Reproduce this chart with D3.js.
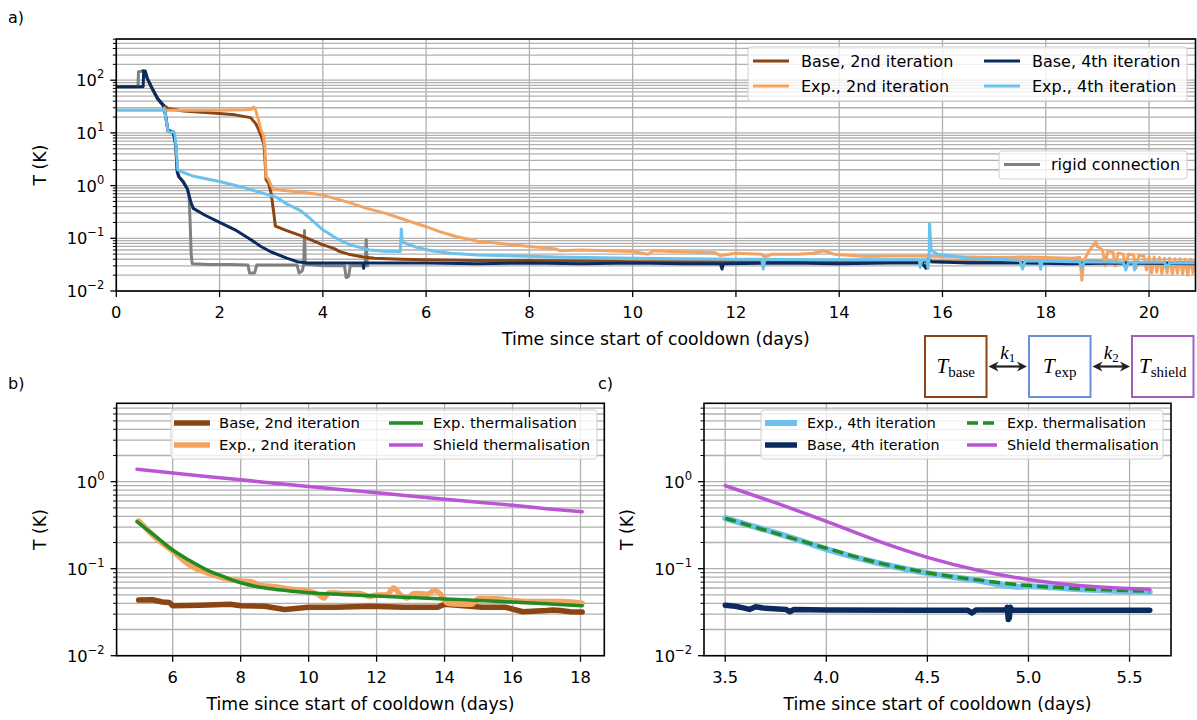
<!DOCTYPE html>
<html><head><meta charset="utf-8">
<script src="https://cdn.jsdelivr.net/npm/d3@7"></script>
<style>
body{margin:0;background:#fff}
text{font-family:"DejaVu Sans",sans-serif;fill:#000}
.serif{font-family:"Liberation Serif","DejaVu Serif",serif}
</style>
</head><body>
<script>
// ---------- panel a: full cooldown, [days, kelvin] ----------
const aRigid = [[0,75],[0.42,75],[0.43,145],[0.51,150],[0.56,130],[0.65,85],[0.75,55],[0.85,38],[0.91,32],[0.95,22],[1.0,11],[1.1,10.5],[1.15,6],[1.18,2],[1.2,1.5],[1.3,1.2],[1.37,0.9],[1.41,0.6],[1.43,0.2],[1.45,0.05],[1.47,0.033],[1.8,0.032],[2.2,0.032],[2.55,0.031],[2.58,0.022],[2.68,0.022],[2.72,0.031],[3.0,0.031],[3.5,0.031],[3.54,0.022],[3.6,0.024],[3.63,0.032],[3.645,0.14],[3.66,0.032],[4.0,0.03],[4.42,0.03],[4.45,0.018],[4.5,0.019],[4.53,0.03],[4.82,0.03],[4.84,0.095],[4.86,0.03],[4.87,0.03]];
const aBase2 = [[0.52,150],[0.56,140],[0.6,105],[0.7,68],[0.8,44],[0.91,34],[1.0,29],[1.3,26],[1.8,24],[2.3,22],[2.6,19.5],[2.7,15],[2.75,12],[2.82,8],[2.86,6],[2.88,3],[2.9,1.3],[2.95,1.1],[3.0,0.7],[3.05,0.3],[3.08,0.17],[3.3,0.14],[3.6,0.11],[4.0,0.075],[4.2,0.065],[4.33,0.056],[4.5,0.05],[4.78,0.044],[5.0,0.042],[5.5,0.04],[6,0.039],[7,0.038],[8,0.038],[9,0.037],[10,0.036],[12,0.036],[14,0.036],[16,0.036],[18,0.035],[19,0.036],[20,0.034],[20.9,0.035]];
const aExp2 = [[0.91,27],[1.5,27],[2.0,27],[2.5,27.5],[2.62,28],[2.66,31],[2.7,27],[2.75,18],[2.8,11.5],[2.85,9],[2.88,5],[2.9,1.5],[2.95,1.3],[3.0,1.0],[3.05,0.85],[3.2,0.82],[3.6,0.75],[4.0,0.66],[4.5,0.48],[4.85,0.37],[5.2,0.3],[5.5,0.24],[6.0,0.166],[6.3,0.13],[6.6,0.107],[7.0,0.088],[7.43,0.08],[8.0,0.07],[8.5,0.063],[8.6,0.058],[9.0,0.06],[9.5,0.058],[10.0,0.056],[10.3,0.05],[10.4,0.058],[11,0.055],[11.6,0.053],[11.7,0.047],[12,0.052],[12.5,0.05],[12.55,0.044],[12.7,0.05],[13.2,0.05],[13.5,0.052],[13.7,0.058],[13.9,0.05],[14.5,0.045],[15,0.046],[15.5,0.046],[16,0.045],[16.5,0.044],[17,0.043],[17.5,0.044],[18,0.043],[18.5,0.042],[18.66,0.043],[18.7,0.016],[18.73,0.035],[18.8,0.05],[18.9,0.07],[18.97,0.085],[19.0,0.07],[19.1,0.06],[19.15,0.03],[19.2,0.058],[19.3,0.055],[19.35,0.03],[19.4,0.052],[19.5,0.05],[19.55,0.028],[19.6,0.05],[19.7,0.048],[19.75,0.027],[19.8,0.047],[19.9,0.046],[19.95,0.025],[20.0,0.045],[20.05,0.022],[20.1,0.044],[20.15,0.023],[20.2,0.043],[20.25,0.021],[20.3,0.042],[20.35,0.022],[20.4,0.042],[20.45,0.021],[20.5,0.041],[20.55,0.022],[20.6,0.041],[20.65,0.021],[20.7,0.04],[20.75,0.02],[20.8,0.04],[20.85,0.022],[20.9,0.04]];
const aBase4 = [[0,75],[0.52,75],[0.53,150],[0.56,150],[0.6,110],[0.7,68],[0.8,45],[0.91,34],[0.95,23],[1.0,11],[1.1,10.5],[1.15,6],[1.18,1.8],[1.22,1.45],[1.3,1.15],[1.38,0.85],[1.44,0.5],[1.49,0.37],[1.7,0.28],[2.0,0.2],[2.3,0.145],[2.6,0.095],[2.8,0.07],[3.0,0.055],[3.3,0.042],[3.5,0.036],[3.7,0.034],[4.5,0.034],[4.78,0.034],[4.79,0.027],[4.8,0.034],[6,0.034],[7,0.033],[8,0.034],[9,0.033],[10,0.034],[11,0.033],[11.7,0.033],[11.73,0.026],[11.76,0.033],[13,0.034],[14,0.033],[15,0.034],[15.6,0.034],[15.68,0.027],[15.72,0.04],[15.8,0.036],[16.5,0.034],[17.5,0.034],[18.5,0.033],[19.5,0.034],[20.9,0.033]];
const aExp4 = [[0,27],[0.9,27],[0.93,30],[0.95,22],[1.0,11],[1.05,10],[1.1,10.8],[1.13,10],[1.16,5],[1.19,2],[1.25,1.85],[1.5,1.5],[2.0,1.2],[2.5,0.9],[2.85,0.71],[3.1,0.6],[3.3,0.45],[3.56,0.34],[3.75,0.24],[4.0,0.145],[4.3,0.095],[4.53,0.075],[4.91,0.06],[5.2,0.057],[5.5,0.056],[5.52,0.15],[5.54,0.085],[5.8,0.068],[6.1,0.058],[6.46,0.052],[7.0,0.048],[7.43,0.047],[8.5,0.044],[10,0.042],[12,0.04],[12.5,0.04],[12.53,0.026],[12.56,0.04],[13.8,0.039],[15.0,0.039],[15.55,0.039],[15.57,0.028],[15.6,0.039],[15.7,0.039],[15.72,0.027],[15.74,0.039],[15.75,0.19],[15.78,0.06],[15.9,0.05],[16.2,0.046],[16.5,0.042],[17,0.04],[17.5,0.038],[17.55,0.026],[17.6,0.037],[17.88,0.037],[17.9,0.026],[17.93,0.037],[18.5,0.036],[18.65,0.036],[18.7,0.028],[18.75,0.036],[19.5,0.035],[19.55,0.025],[19.6,0.035],[19.7,0.035],[19.72,0.025],[19.75,0.035],[20.3,0.035],[20.35,0.028],[20.4,0.034],[20.9,0.034]];

// ---------- panel b: 2nd iteration with fitted model ----------
const bBase2 = [[5.0,0.0436],[5.4,0.044],[5.7,0.0414],[5.9,0.041],[6.0,0.0376],[6.8,0.038],[7.7,0.039],[8.0,0.0375],[8.7,0.037],[9.3,0.034],[10,0.036],[10.8,0.036],[11.8,0.037],[12.8,0.036],[13.8,0.036],[14.0,0.039],[15.1,0.036],[15.8,0.036],[16.3,0.032],[17.0,0.033],[17.2,0.0335],[17.4,0.033],[17.7,0.032],[18.05,0.0318]];
const bExp2 = [[5,0.355],[5.3,0.27],[5.6,0.21],[6,0.16],[6.5,0.11],[7,0.09],[7.5,0.078],[8,0.072],[8.3,0.071],[8.6,0.064],[9,0.062],[9.5,0.058],[10,0.055],[10.3,0.05],[10.45,0.046],[10.6,0.053],[11,0.052],[11.5,0.052],[11.8,0.048],[12,0.05],[12.3,0.05],[12.5,0.06],[12.7,0.05],[12.9,0.046],[13.1,0.052],[13.5,0.051],[13.7,0.056],[13.9,0.05],[14.1,0.04],[14.5,0.039],[14.8,0.039],[15.0,0.045],[15.5,0.045],[16,0.043],[16.5,0.042],[17,0.042],[17.5,0.042],[18.05,0.04]];
const bExpModel = [[4.95,0.347],[5.5,0.235],[6,0.164],[6.5,0.124],[7,0.097],[7.5,0.081],[8,0.069],[8.5,0.062],[9,0.058],[9.5,0.0552],[10,0.053],[11,0.0505],[12,0.0485],[13,0.0467],[14,0.0449],[15,0.0431],[16,0.0414],[17,0.0395],[18.05,0.0376]];
const bShieldModel = [[4.95,1.39],[6,1.26],[7,1.15],[8,1.05],[9,0.96],[10,0.88],[11,0.81],[12,0.745],[13,0.685],[14,0.63],[15,0.58],[16,0.535],[17,0.49],[18.05,0.45]];

// ---------- panel c: 4th iteration with fitted model ----------
const cExp4 = [[3.5,0.38],[3.6,0.325],[3.75,0.258],[3.9,0.2],[4.0,0.168],[4.05,0.155],[4.25,0.117],[4.5,0.089],[4.75,0.073],[4.95,0.062],[5.0,0.063],[5.25,0.058],[5.45,0.0555],[5.6,0.054]];
const cBase4 = [[3.5,0.038],[3.55,0.037],[3.6,0.035],[3.62,0.034],[3.65,0.0365],[3.7,0.035],[3.8,0.034],[3.82,0.032],[3.84,0.034],[4.0,0.0335],[4.5,0.0333],[4.7,0.0333],[4.72,0.031],[4.74,0.0335],[4.89,0.0335],[4.895,0.036],[4.9,0.026],[4.905,0.027],[4.91,0.036],[4.92,0.0333],[5.6,0.0333]];
const cExpModel = [[3.5,0.38],[3.75,0.255],[4.0,0.172],[4.25,0.118],[4.5,0.09],[4.75,0.074],[5.0,0.064],[5.25,0.059],[5.6,0.055]];
const cShieldModel = [[3.5,0.9],[3.75,0.57],[4.0,0.35],[4.25,0.21],[4.5,0.135],[4.75,0.096],[5.0,0.075],[5.25,0.064],[5.6,0.058]];

// ---------- ticks ----------
const aXTicks = [0,2,4,6,8,10,12,14,16,18,20];
const bXTicks = [6,8,10,12,14,16,18];
const cXTicks = [3.5,4.0,4.5,5.0,5.5];
const xLabel = "Time since start of cooldown (days)";
const yLabel = "T (K)";

const C = {
  base2:"#8B4513", exp2:"#F4A460", base4:"#0B2B5E", exp4:"#6BC2EC",
  rigid:"#808080", expModel:"#228B22", shieldModel:"#BA55D3"
};

const W = 1197, H = 720;
const svg = d3.select("body").append("svg").attr("width", W).attr("height", H);

function makePanel(cfg) {
  const {id, left, right, top, bottom, xDomain, yDomain, xTicks, xFmt} = cfg;
  const x = d3.scaleLinear().domain(xDomain).range([left, right]);
  const y = d3.scaleLog().domain(yDomain).range([bottom, top]);
  svg.append("clipPath").attr("id", "clip-" + id)
    .append("rect").attr("x", left).attr("y", top).attr("width", right - left).attr("height", bottom - top);

  const lo = Math.floor(Math.log10(yDomain[0])), hi = Math.ceil(Math.log10(yDomain[1]));
  const major = [], minor = [];
  for (let k = lo; k <= hi; k++) {
    const b = Math.pow(10, k);
    if (b >= yDomain[0] * 0.999 && b <= yDomain[1]) major.push(b);
    for (let m = 2; m <= 9; m++) { const v = m * b; if (v >= yDomain[0] && v <= yDomain[1]) minor.push(v); }
  }
  const grid = svg.append("g").attr("stroke", "#b0b0b0").attr("stroke-width", 1.3);
  grid.selectAll(".gy").data(major.concat(minor)).join("line")
    .attr("x1", left).attr("x2", right).attr("y1", d => y(d)).attr("y2", d => y(d));
  grid.selectAll(".gx").data(xTicks).join("line")
    .attr("x1", d => x(d)).attr("x2", d => x(d)).attr("y1", top).attr("y2", bottom);

  const layer = svg.append("g").attr("clip-path", `url(#clip-${id})`);

  function finish() {
    const f = svg.append("g");
    f.append("rect").attr("x", left).attr("y", top).attr("width", right - left).attr("height", bottom - top)
      .attr("fill", "none").attr("stroke", "#000").attr("stroke-width", 1.6);
    f.selectAll(".tx").data(xTicks).join("line").attr("stroke", "#000").attr("stroke-width", 1.3)
      .attr("x1", d => x(d)).attr("x2", d => x(d)).attr("y1", bottom).attr("y2", bottom + 6);
    f.selectAll(".tl").data(xTicks).join("text").attr("x", d => x(d)).attr("y", bottom + 27)
      .attr("text-anchor", "middle").attr("font-size", 16.3).text(xFmt);
    f.selectAll(".ty").data(major).join("line").attr("stroke", "#000").attr("stroke-width", 1.3)
      .attr("x1", left - 6).attr("x2", left).attr("y1", d => y(d)).attr("y2", d => y(d));
    f.selectAll(".tm").data(minor).join("line").attr("stroke", "#000").attr("stroke-width", 1)
      .attr("x1", left - 3.5).attr("x2", left).attr("y1", d => y(d)).attr("y2", d => y(d));
    major.forEach(v => {
      const e = Math.round(Math.log10(v));
      const t = f.append("text").attr("x", left - 12).attr("y", y(v) + 6).attr("text-anchor", "end").attr("font-size", 16.3);
      t.append("tspan").text("10");
      t.append("tspan").attr("dy", -8).attr("font-size", 11.5).text(e < 0 ? "\u2212" + (-e) : String(e));
    });
  }
  return {x, y, layer, finish, left, right, top, bottom};
}

function drawLine(p, data, color, width, dash, curve) {
  const line = d3.line().x(d => p.x(d[0])).y(d => p.y(d[1])).curve(curve || d3.curveLinear);
  const path = p.layer.append("path").datum(data).attr("d", line)
    .attr("fill", "none").attr("stroke", color).attr("stroke-width", width)
    .attr("stroke-linejoin", "round").attr("stroke-linecap", dash ? "butt" : "round");
  if (dash) path.attr("stroke-dasharray", dash);
}

function legend(box, fontSize, items) {
  const g = svg.append("g");
  g.append("rect").attr("x", box.x).attr("y", box.y).attr("width", box.w).attr("height", box.h)
    .attr("rx", 3).attr("fill", "#fff").attr("fill-opacity", 0.8).attr("stroke", "#d0d0d0").attr("stroke-width", 1);
  items.forEach(it => {
    const l = g.append("line").attr("x1", it.x).attr("x2", it.x + it.len).attr("y1", it.y).attr("y2", it.y)
      .attr("stroke", it.color).attr("stroke-width", it.width);
    if (it.dash) l.attr("stroke-dasharray", it.dash);
    g.append("text").attr("x", it.tx).attr("y", it.y + fontSize * 0.35).attr("font-size", fontSize).text(it.label);
  });
}

function axisTitles(p, ylx) {
  svg.append("text").attr("x", (p.left + p.right) / 2).attr("y", p.bottom + 54)
    .attr("text-anchor", "middle").attr("font-size", 17.3).text(xLabel);
  svg.append("text").attr("transform", `translate(${ylx},${(p.top + p.bottom) / 2}) rotate(-90)`)
    .attr("text-anchor", "middle").attr("font-size", 17.3).text(yLabel);
}

// ---------- panel a ----------
const pa = makePanel({id: "a", left: 116.3, right: 1195.5, top: 39, bottom: 291,
  xDomain: [0, 20.9], yDomain: [0.01, 605], xTicks: aXTicks, xFmt: d => d});
drawLine(pa, aRigid, C.rigid, 3);
drawLine(pa, aBase2, C.base2, 3);
drawLine(pa, aExp2, C.exp2, 3);
drawLine(pa, aBase4, C.base4, 3);
drawLine(pa, aExp4, C.exp4, 3);
legend({x: 748, y: 47, w: 439, h: 54}, 16, [
  {x: 753, y: 61, len: 36, tx: 801, color: C.base2, width: 3, label: "Base, 2nd iteration"},
  {x: 753, y: 86, len: 36, tx: 801, color: C.exp2, width: 3, label: "Exp., 2nd iteration"},
  {x: 984, y: 61, len: 36, tx: 1032, color: C.base4, width: 3, label: "Base, 4th iteration"},
  {x: 984, y: 86, len: 36, tx: 1032, color: C.exp4, width: 3, label: "Exp., 4th iteration"}
]);
legend({x: 999, y: 151, w: 188, h: 28}, 16, [
  {x: 1004, y: 164.5, len: 36, tx: 1051, color: C.rigid, width: 3, label: "rigid connection"}
]);
pa.finish();
axisTitles(pa, 46);

// ---------- panel b ----------
const pb = makePanel({id: "b", left: 116.6, right: 604.3, top: 403.3, bottom: 655.7,
  xDomain: [4.35, 18.7], yDomain: [0.01, 7.96], xTicks: bXTicks, xFmt: d => d});
drawLine(pb, bBase2, C.base2, 5.5);
drawLine(pb, bExp2, C.exp2, 5.5, null, d3.curveMonotoneX);
drawLine(pb, bExpModel, C.expModel, 3.5, null, d3.curveMonotoneX);
drawLine(pb, bShieldModel, C.shieldModel, 3.5, null, d3.curveMonotoneX);
legend({x: 171, y: 410, w: 426, h: 49}, 14.8, [
  {x: 174, y: 423, len: 36, tx: 219, color: C.base2, width: 5.5, label: "Base, 2nd iteration"},
  {x: 174, y: 445, len: 36, tx: 219, color: C.exp2, width: 5.5, label: "Exp., 2nd iteration"},
  {x: 389, y: 423, len: 34, tx: 433, color: C.expModel, width: 3.5, label: "Exp. thermalisation"},
  {x: 389, y: 445, len: 34, tx: 433, color: C.shieldModel, width: 3.5, label: "Shield thermalisation"}
]);
pb.finish();
axisTitles(pb, 46);

// ---------- panel c ----------
const pc = makePanel({id: "c", left: 704, right: 1171, top: 403.3, bottom: 655.7,
  xDomain: [3.395, 5.705], yDomain: [0.01, 7.96], xTicks: cXTicks, xFmt: d => d.toFixed(1)});
drawLine(pc, cExp4, C.exp4, 6, null, d3.curveMonotoneX);
drawLine(pc, cBase4, C.base4, 5.5);
drawLine(pc, cExpModel, C.expModel, 3.5, "11,5", d3.curveMonotoneX);
drawLine(pc, cShieldModel, C.shieldModel, 3.5, null, d3.curveMonotoneX);
legend({x: 761, y: 410, w: 402, h: 49}, 14.3, [
  {x: 765, y: 423, len: 32, tx: 807, color: C.exp4, width: 6, label: "Exp., 4th iteration"},
  {x: 765, y: 445, len: 32, tx: 807, color: C.base4, width: 5.5, label: "Base, 4th iteration"},
  {x: 967, y: 423, len: 30, tx: 1007, color: C.expModel, width: 3.5, dash: "11,5", label: "Exp. thermalisation"},
  {x: 967, y: 445, len: 30, tx: 1007, color: C.shieldModel, width: 3.5, label: "Shield thermalisation"}
]);
pc.finish();
axisTitles(pc, 633);

// ---------- panel letters ----------
svg.append("text").attr("x", 8).attr("y", 23).attr("font-size", 16).text("a)");
svg.append("text").attr("x", 8).attr("y", 389).attr("font-size", 16).text("b)");
svg.append("text").attr("x", 598).attr("y", 389).attr("font-size", 16).text("c)");

// ---------- thermal model schematic ----------
const nodes = [
  {x: 925, label: "base", color: "#8B4513"},
  {x: 1029, label: "exp", color: "#6A91DA"},
  {x: 1132, label: "shield", color: "#A65DC0"}
];
const boxW = 61.5, boxY = 336, boxH = 61;
const sch = svg.append("g");
nodes.forEach(n => {
  sch.append("rect").attr("x", n.x).attr("y", boxY).attr("width", boxW).attr("height", boxH)
    .attr("fill", "#fff").attr("stroke", n.color).attr("stroke-width", 2);
  const t = sch.append("text").attr("class", "serif").attr("x", n.x + boxW / 2).attr("y", boxY + 37)
    .attr("text-anchor", "middle").attr("font-size", 21);
  t.append("tspan").attr("font-style", "italic").text("T");
  t.append("tspan").attr("dy", 4).attr("font-size", 15).text(n.label);
});
const couplings = ["1", "2"];
couplings.forEach((k, i) => {
  const x1 = nodes[i].x + boxW + 2, x2 = nodes[i + 1].x - 2, yy = boxY + boxH / 2;
  sch.append("line").attr("x1", x1 + 6).attr("x2", x2 - 6).attr("y1", yy).attr("y2", yy)
    .attr("stroke", "#222").attr("stroke-width", 2.2);
  sch.append("path").attr("d", `M${x1},${yy} L${x1 + 10},${yy - 5} L${x1 + 7},${yy} L${x1 + 10},${yy + 5} Z`).attr("fill", "#222");
  sch.append("path").attr("d", `M${x2},${yy} L${x2 - 10},${yy - 5} L${x2 - 7},${yy} L${x2 - 10},${yy + 5} Z`).attr("fill", "#222");
  const t = sch.append("text").attr("class", "serif").attr("x", (x1 + x2) / 2).attr("y", yy - 8)
    .attr("text-anchor", "middle").attr("font-size", 19);
  t.append("tspan").attr("font-style", "italic").text("k");
  t.append("tspan").attr("dy", 3).attr("font-size", 13).text(k);
});
</script>
</body></html>
